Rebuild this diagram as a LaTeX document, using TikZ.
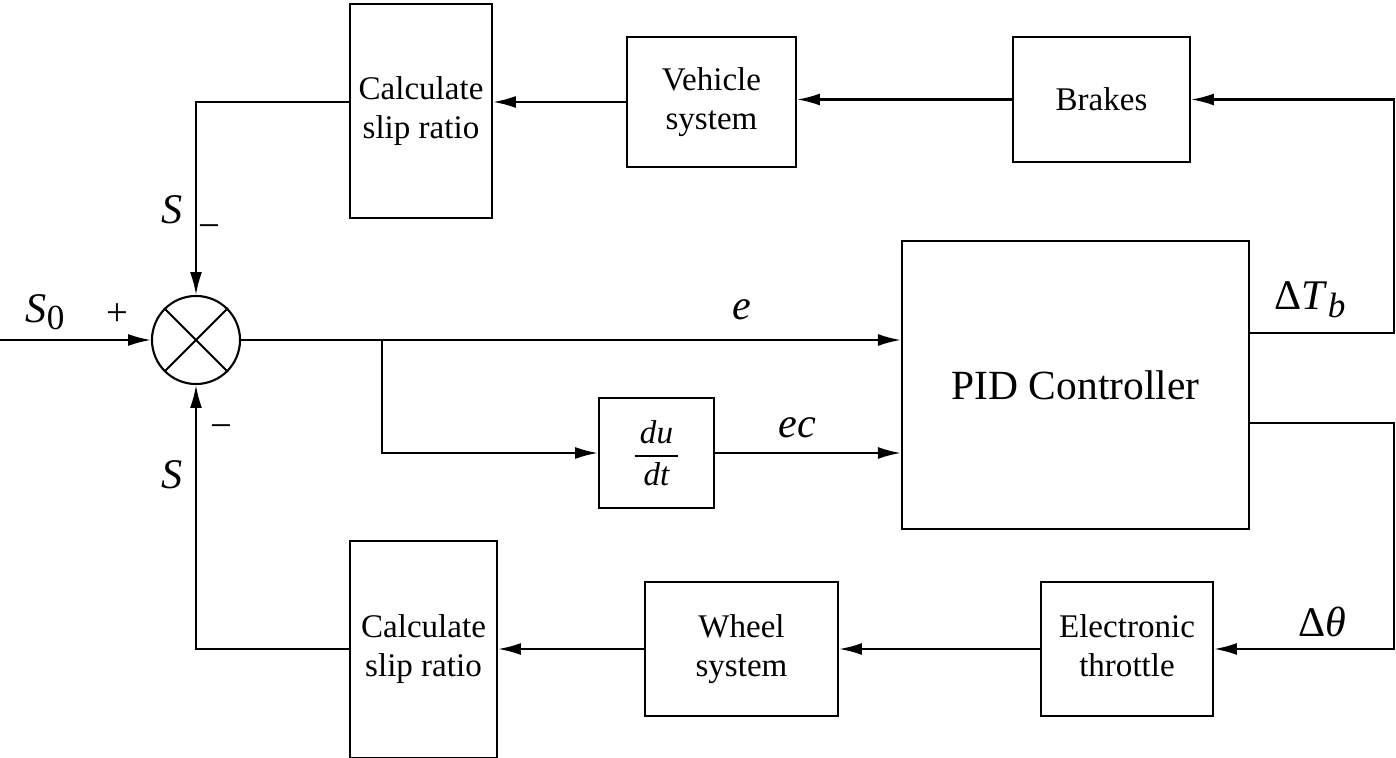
\documentclass[tikz,border=0pt]{standalone}
\usepackage{fontspec}
\setmainfont{Liberation Serif}
\usetikzlibrary{arrows.meta,calc}
\begin{document}
\begin{tikzpicture}[x=0.01cm,y=-0.01cm,
  line width=0.6pt,
  arr/.style={-{Latex[length=6.5pt,width=3.4pt]}},
  blk/.style={draw,inner sep=0pt,align=center,font=\fontsize{9.4}{11}\selectfont},
  lbl/.style={inner sep=0pt,font=\fontsize{12}{14}\selectfont},
  sgn/.style={inner sep=0pt,font=\fontsize{11}{13}\selectfont}]
\useasboundingbox (0,0) rectangle (1396,758);
% blocks
\node[blk,minimum width=1.42cm,minimum height=2.14cm] (calc1) at (421,111) {\raisebox{-1pt}{\begin{tabular}{@{}c@{}}Calculate\\slip ratio\end{tabular}}};
\node[blk,minimum width=1.69cm,minimum height=1.30cm] (veh) at (711.5,102) {\raisebox{-1pt}{\begin{tabular}{@{}c@{}}Vehicle\\system\end{tabular}}};
\node[blk,minimum width=1.77cm,minimum height=1.25cm] (brakes) at (1101.5,99.5) {Brakes};
\node[blk,minimum width=3.47cm,minimum height=2.88cm,font=\fontsize{11.8}{14}\selectfont] (pid) at (1075.5,385) {PID Controller};
\node[draw,circle,minimum size=0.88cm,inner sep=0pt] (sum) at (196,340) {};
\node[blk,minimum width=1.15cm,minimum height=1.10cm] (deriv) at (656.5,453) {$\displaystyle\frac{\,\textit{du}\,}{\,\textit{dt}\,}$};
\node[blk,minimum width=1.47cm,minimum height=2.16cm] (calc2) at (423.5,649.5) {\raisebox{-1pt}{\begin{tabular}{@{}c@{}}Calculate\\slip ratio\end{tabular}}};
\node[blk,minimum width=1.93cm,minimum height=1.34cm] (wheel) at (741.5,649) {\raisebox{-1pt}{\begin{tabular}{@{}c@{}}Wheel\\system\end{tabular}}};
\node[blk,minimum width=1.72cm,minimum height=1.34cm] (thr) at (1127,649) {\raisebox{-1pt}{\begin{tabular}{@{}c@{}}Electronic\\throttle\end{tabular}}};
% cross in summing junction
\draw (sum.45) -- (sum.225);
\draw (sum.135) -- (sum.-45);
% coordinates
\coordinate (in) at (0,340);
\coordinate (br) at (382,340);
\coordinate (rx) at (1394,0);
% connectors
\draw[arr] (in) -- (sum.west);
\draw[arr] (sum.east) -- (sum.east -| pid.west);
\draw[arr] (br) |- (deriv.west);
\draw[arr] (deriv.east) -- (deriv.east -| pid.west);
\draw[arr] ([yshift=0.52cm]pid.east) -| (rx |- brakes.east) -- (brakes.east);
\draw[arr] ([yshift=-0.38cm]pid.east) -| (rx |- thr.east) -- (thr.east);
\draw[arr] (brakes.west) -- (brakes.west -| veh.east);
\draw[arr] (veh.west) -- (veh.west -| calc1.east);
\draw[arr] (calc1.west |- veh.west) -| (sum.north);
\draw[arr] (thr.west) -- (thr.west -| wheel.east);
\draw[arr] (wheel.west) -- (wheel.west -| calc2.east);
\draw[arr] (calc2.west |- wheel.west) -| (sum.south);
% labels
\node[lbl] (ls0) at (45,312) {\textit{S}\raisebox{-0.35ex}{\fontsize{10}{12}\selectfont 0}};
\node[sgn] (lplus) at (117,315) {+};
\node[lbl] (lst) at (172,210) {\textit{S}};
\node[sgn] (lmt) at (209,232) {−};
\node[lbl] (lsb) at (172,475) {\textit{S}};
\node[sgn] (lmb) at (221,432) {−};
\node[lbl] (le) at (742,310) {\textit{e}};
\node[lbl] (lec) at (797,428) {\textit{ec}};
\node[lbl] (ltb) at (1310,300) {Δ\textit{T}\raisebox{-0.4ex}{\fontsize{10}{12}\selectfont\textit{b}}};
\node[lbl] (lth) at (1322,622) {Δ\textit{θ}};
\end{tikzpicture}
\end{document}
